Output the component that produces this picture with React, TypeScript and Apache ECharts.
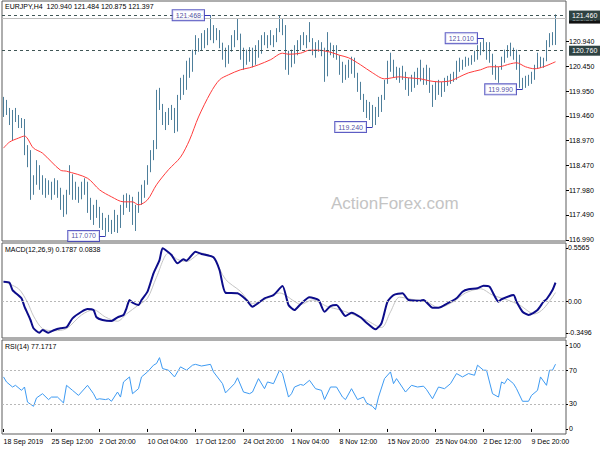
import React, { useEffect, useRef } from 'react';
import * as echarts from 'echarts';

const FONT = "'Liberation Sans', Arial, sans-serif";

// x-axis tick labels (every 16 bars)
const dateLabels = ['18 Sep 2019', '25 Sep 12:00', '2 Oct 20:00', '10 Oct 04:00', '17 Oct 12:00', '24 Oct 20:00', '1 Nov 04:00', '8 Nov 12:00', '15 Nov 20:00', '25 Nov 04:00', '2 Dec 12:00', '9 Dec 20:00'];
const priceTicks = [116.99, 117.49, 117.98, 118.47, 118.97, 119.46, 119.95, 120.45, 120.94];
const rsiTicks = [0, 30, 70, 100];
const macdScale = { min: -0.3496, max: 0.5565 };
const macdLabelSlots = [-0.30, 0, 0.509];
const macdLabelTexts = ['-0.3496', '0.00', '0.5565'];

// bars: [open, high, low, close]
const bars = [
  [119.58, 119.84, 119.44, 119.72], [119.72, 119.78, 119.48, 119.54], [119.54, 119.62, 119.28, 119.33], [119.33, 119.58, 118.98, 119.45],
  [119.45, 119.62, 119.34, 119.40], [119.40, 119.48, 119.22, 119.30], [119.30, 119.42, 119.22, 119.36], [119.36, 119.40, 118.68, 118.80],
  [118.80, 118.88, 118.44, 118.62], [118.62, 118.78, 117.79, 117.98], [117.98, 118.28, 117.89, 118.15], [118.15, 118.58, 118.09, 118.45],
  [118.45, 118.48, 117.99, 118.10], [118.10, 118.28, 117.89, 118.20], [118.20, 118.22, 117.83, 117.95], [117.95, 118.18, 117.89, 118.10],
  [118.10, 118.15, 117.79, 117.90], [117.90, 118.22, 117.89, 118.12], [118.12, 118.18, 117.83, 117.95], [117.95, 118.03, 117.59, 117.70],
  [117.70, 117.89, 117.45, 117.55], [117.55, 117.99, 117.50, 117.90], [117.90, 118.48, 117.89, 118.30], [118.30, 118.30, 117.79, 117.95],
  [117.95, 118.15, 117.79, 118.05], [118.05, 118.05, 117.73, 117.80], [117.80, 118.15, 117.80, 118.05], [118.05, 118.22, 117.89, 118.15],
  [118.15, 118.15, 117.53, 117.60], [117.60, 117.83, 117.39, 117.50], [117.50, 117.69, 117.29, 117.45], [117.45, 117.79, 117.43, 117.65],
  [117.65, 117.65, 117.23, 117.30], [117.30, 117.53, 117.19, 117.40], [117.40, 117.43, 117.07, 117.15], [117.15, 117.49, 117.15, 117.35],
  [117.35, 117.39, 117.11, 117.20], [117.20, 117.59, 117.15, 117.45], [117.45, 117.49, 117.13, 117.25], [117.25, 117.69, 117.23, 117.60],
  [117.60, 117.89, 117.49, 117.80], [117.80, 117.92, 117.63, 117.75], [117.75, 117.89, 117.55, 117.85], [117.85, 117.85, 117.29, 117.40],
  [117.40, 117.69, 117.17, 117.55], [117.55, 117.95, 117.53, 117.85], [117.85, 118.09, 117.69, 118.00], [118.00, 118.18, 117.83, 118.10],
  [118.10, 118.48, 118.09, 118.40], [118.40, 118.78, 118.34, 118.65], [118.65, 118.98, 118.58, 118.85], [118.85, 119.98, 118.80, 119.85],
  [119.85, 120.02, 119.58, 119.70], [119.70, 119.70, 119.28, 119.35], [119.35, 119.54, 119.18, 119.45], [119.45, 119.62, 119.28, 119.55],
  [119.55, 119.68, 119.38, 119.60], [119.60, 119.62, 119.12, 119.20], [119.20, 119.88, 119.15, 119.80], [119.80, 120.22, 119.78, 120.10],
  [120.10, 120.28, 119.88, 120.00], [120.00, 120.56, 119.98, 120.45], [120.45, 120.62, 120.22, 120.35], [120.35, 120.78, 120.34, 120.70],
  [120.70, 121.07, 120.68, 120.95], [120.95, 121.01, 120.74, 120.85], [120.85, 121.11, 120.77, 121.00], [121.00, 121.17, 120.81, 120.90],
  [120.90, 121.21, 120.87, 121.10], [121.10, 121.468, 120.97, 121.20], [121.20, 121.27, 120.91, 121.00], [121.00, 121.21, 120.97, 121.15],
  [121.15, 121.17, 120.81, 120.90], [120.90, 120.92, 120.58, 120.70], [120.70, 120.82, 120.43, 120.50], [120.50, 120.87, 120.50, 120.80],
  [120.80, 121.07, 120.74, 121.00], [121.00, 121.17, 120.83, 121.05], [121.05, 121.41, 120.97, 121.10], [121.10, 121.10, 120.58, 120.65],
  [120.65, 120.82, 120.38, 120.50], [120.50, 120.78, 120.48, 120.70], [120.70, 120.83, 120.54, 120.60], [120.60, 120.82, 120.43, 120.55],
  [120.55, 120.87, 120.48, 120.80], [120.80, 120.97, 120.62, 120.70], [120.70, 121.07, 120.70, 121.00], [121.00, 121.13, 120.87, 120.95],
  [120.95, 121.07, 120.81, 121.05], [121.05, 121.17, 120.87, 120.92], [120.92, 121.07, 120.83, 121.05], [121.05, 121.21, 120.93, 121.15],
  [121.15, 121.46, 121.13, 121.30], [121.30, 121.41, 121.07, 121.20], [121.20, 121.27, 120.38, 120.50], [120.50, 120.76, 120.28, 120.60],
  [120.60, 120.78, 120.43, 120.50], [120.50, 120.87, 120.50, 120.80], [120.80, 120.97, 120.67, 120.90], [120.90, 121.07, 120.77, 121.00],
  [121.00, 121.13, 120.87, 120.95], [120.95, 121.07, 120.81, 121.05], [121.05, 121.33, 120.93, 121.00], [121.00, 121.01, 120.67, 120.75],
  [120.75, 120.93, 120.62, 120.85], [120.85, 120.97, 120.74, 120.80], [120.80, 120.93, 120.65, 120.70], [120.70, 120.82, 120.14, 120.25],
  [120.25, 121.13, 120.25, 120.90], [120.90, 120.92, 120.67, 120.80], [120.80, 120.87, 120.62, 120.70], [120.70, 120.87, 120.58, 120.65],
  [120.65, 120.67, 120.28, 120.35], [120.35, 120.54, 120.12, 120.20], [120.20, 120.48, 120.18, 120.40], [120.40, 120.58, 120.22, 120.30],
  [120.30, 120.64, 120.30, 120.55], [120.55, 120.62, 120.22, 120.30], [120.30, 120.32, 119.94, 120.00], [120.00, 120.14, 119.78, 119.90],
  [119.90, 119.90, 119.54, 119.60], [119.60, 119.78, 119.42, 119.50], [119.50, 119.74, 119.38, 119.45], [119.45, 119.68, 119.24, 119.35],
  [119.35, 119.64, 119.28, 119.55], [119.55, 119.84, 119.44, 119.75], [119.75, 119.88, 119.54, 119.80], [119.80, 120.18, 119.78, 120.10],
  [120.10, 120.56, 120.10, 120.45], [120.45, 120.72, 120.34, 120.55], [120.55, 120.58, 120.22, 120.40], [120.40, 120.44, 120.18, 120.30],
  [120.30, 120.42, 120.12, 120.38], [120.38, 120.46, 120.18, 120.25], [120.25, 120.34, 119.98, 120.05], [120.05, 120.22, 119.86, 120.15],
  [120.15, 120.28, 119.94, 120.05], [120.05, 120.34, 120.02, 120.25], [120.25, 120.42, 120.08, 120.15], [120.15, 120.58, 120.15, 120.40],
  [120.40, 120.42, 120.08, 120.20], [120.20, 120.48, 120.08, 120.35], [120.35, 120.42, 119.92, 120.00], [120.00, 120.08, 119.64, 119.80],
  [119.80, 120.14, 119.78, 119.95], [119.95, 120.18, 119.88, 120.05], [120.05, 120.14, 119.84, 119.95], [119.95, 120.22, 119.94, 120.15],
  [120.15, 120.26, 120.06, 120.10], [120.10, 120.30, 120.10, 120.22], [120.22, 120.34, 120.14, 120.18], [120.18, 120.56, 120.18, 120.45],
  [120.45, 120.62, 120.34, 120.50], [120.50, 120.58, 120.38, 120.45], [120.45, 120.64, 120.44, 120.55], [120.55, 120.62, 120.46, 120.50],
  [120.50, 120.67, 120.48, 120.60], [120.60, 120.76, 120.54, 120.70], [120.70, 120.87, 120.58, 120.80], [120.80, 120.93, 120.67, 120.85],
  [120.85, 121.01, 120.74, 120.80], [120.80, 120.93, 120.58, 120.88], [120.88, 120.93, 120.52, 120.70], [120.70, 120.70, 120.28, 120.35],
  [120.35, 120.48, 120.18, 120.25], [120.25, 120.44, 120.12, 120.40], [120.40, 120.64, 120.38, 120.55], [120.55, 120.78, 120.52, 120.70],
  [120.70, 120.87, 120.62, 120.80], [120.80, 120.92, 120.65, 120.72], [120.72, 120.82, 120.58, 120.65], [120.65, 120.78, 120.38, 120.45],
  [120.45, 120.68, 120.02, 120.05], [120.05, 120.22, 119.99, 120.10], [120.10, 120.26, 120.02, 120.15], [120.15, 120.28, 120.06, 120.12],
  [120.12, 120.34, 120.10, 120.25], [120.25, 120.48, 120.18, 120.40], [120.40, 120.72, 120.40, 120.60], [120.60, 120.64, 120.42, 120.50],
  [120.50, 120.62, 120.42, 120.55], [120.55, 120.97, 120.55, 120.90], [120.90, 121.11, 120.83, 120.95], [120.95, 121.13, 120.87, 120.94],
  [120.94, 121.484, 120.875, 121.397],
];

// moving average (red) read at bar indices
const maLine = [
  [0, 118.82], [2, 118.94], [5, 119.02], [7, 119.06], [10, 118.82], [13, 118.72], [19, 118.38], [21, 118.36], [28, 118.22], [32, 117.99],
  [36, 117.85], [40, 117.75], [43, 117.75], [45, 117.69], [48, 117.79], [51, 118.09], [55, 118.39], [59, 118.64], [62, 118.98], [65, 119.44],
  [69, 119.92], [72, 120.18], [75, 120.28], [79, 120.38], [82, 120.42], [85, 120.48], [89, 120.58], [93, 120.71], [95, 120.69], [99, 120.71],
  [102, 120.77], [105, 120.77], [109, 120.73], [112, 120.67], [115, 120.62], [119, 120.48], [123, 120.32], [127, 120.20], [132, 120.24],
  [135, 120.22], [139, 120.20], [142, 120.16], [145, 120.14], [149, 120.16], [152, 120.24], [155, 120.32], [159, 120.38], [162, 120.44],
  [165, 120.44], [169, 120.50], [171, 120.52], [174, 120.44], [177, 120.40], [180, 120.44], [184, 120.54],
];

const macdLine = [
  [0, 0.187], [2, 0.178], [3, 0.108], [6, 0.029], [7, -0.051], [9, -0.178], [10, -0.257], [12, -0.299], [13, -0.273], [15, -0.299],
  [17, -0.273], [19, -0.257], [21, -0.247], [23, -0.162], [26, -0.099], [28, -0.073], [30, -0.083], [31, -0.152], [33, -0.178], [36, -0.187],
  [38, -0.152], [40, -0.130], [41, -0.066], [42, 0.013], [43, -0.013], [45, -0.035], [46, 0.013], [48, 0.092], [50, 0.267], [52, 0.394],
  [53, 0.506], [54, 0.490], [56, 0.442], [58, 0.363], [60, 0.401], [61, 0.388], [64, 0.474], [66, 0.452], [70, 0.420], [72, 0.299],
  [74, 0.082], [78, 0.077], [81, 0.013], [83, -0.051], [87, 0.029], [90, 0.060], [93, 0.146], [95, -0.035], [97, -0.083], [99, -0.027],
  [102, 0.039], [105, 0.013], [107, -0.099], [109, -0.045], [111, -0.035], [114, -0.140], [116, -0.108], [119, -0.152], [121, -0.204],
  [124, -0.267], [126, -0.209], [128, -0.003], [130, 0.060], [133, 0.077], [135, 0.013], [139, 0.006], [140, 0.013], [143, -0.061],
  [145, -0.061], [148, -0.019], [151, 0.029], [153, 0.092], [155, 0.115], [158, 0.124], [160, 0.149], [162, 0.140], [165, -0.003],
  [166, 0.020], [170, 0.060], [171, -0.003], [173, -0.099], [175, -0.130], [178, -0.083], [180, -0.003], [181, 0.020], [183, 0.108], [184, 0.1787],
];

const signalLine = [
  [0, 0.187], [5, 0.12], [8, -0.01], [10, -0.14], [13, -0.26], [17, -0.28], [21, -0.26], [26, -0.13], [30, -0.08], [34, -0.15], [38, -0.19],
  [41, -0.12], [45, -0.035], [48, 0.03], [51, 0.23], [55, 0.46], [58, 0.40], [61, 0.38], [66, 0.46], [70, 0.41], [74, 0.21], [79, 0.095],
  [83, -0.02], [88, 0.03], [92, 0.08], [97, 0.0], [99, -0.03], [103, 0.013], [108, -0.05], [112, -0.08], [116, -0.12], [121, -0.18],
  [126, -0.25], [129, -0.10], [132, 0.04], [136, 0.02], [141, -0.003], [145, -0.06], [150, -0.003], [154, 0.08], [159, 0.12], [163, 0.06],
  [168, 0.013], [172, -0.035], [177, -0.12], [180, -0.07], [184, 0.0838],
];

const rsiLine = [
  [0, 62], [1, 56], [3, 50], [4, 52], [6, 46], [7, 50], [8, 32], [10, 27], [11, 37], [13, 42], [15, 35], [16, 38], [18, 38], [20, 31],
  [21, 52], [23, 46], [25, 40], [28, 52], [30, 42], [31, 35], [32, 36], [34, 35], [35, 36], [36, 33], [38, 44], [39, 38], [40, 56],
  [42, 62], [43, 42], [45, 48], [46, 62], [48, 68], [50, 76], [51, 78], [52, 85], [53, 72], [55, 70], [57, 62], [59, 74], [61, 70],
  [63, 76], [64, 77], [66, 75], [69, 77], [70, 68], [73, 54], [74, 43], [77, 54], [78, 61], [80, 44], [82, 42], [83, 44], [85, 60],
  [87, 48], [88, 56], [90, 54], [92, 70], [93, 66], [95, 38], [96, 42], [97, 50], [99, 53], [100, 52], [102, 58], [104, 48], [106, 46],
  [107, 35], [109, 50], [111, 50], [113, 38], [114, 35], [116, 48], [118, 35], [120, 38], [121, 31], [123, 27], [124, 23], [125, 38],
  [127, 60], [129, 68], [130, 54], [131, 60], [134, 44], [136, 52], [138, 50], [140, 51], [141, 47], [143, 36], [145, 50], [147, 48],
  [149, 54], [151, 66], [153, 62], [155, 66], [157, 64], [158, 76], [160, 70], [161, 70], [163, 42], [165, 38], [166, 56], [167, 54],
  [168, 60], [170, 54], [171, 48], [173, 33], [175, 33], [176, 40], [178, 46], [179, 62], [181, 52], [182, 70], [183, 70], [184, 77.17],
];

// swing high/low annotations: [bar index, price]
const swingMarks = [[69, 121.468], [34, 117.07], [123, 119.24], [160, 121.01], [173, 119.99]];
const dashedLevels = [121.46, 120.76];
const lastPrice = 121.397;
const titleText = 'EURJPY,H4  120.940 121.484 120.875 121.397';
const macdText = 'MACD(12,26,9) 0.1787 0.0838';
const rsiText = 'RSI(14) 77.1717';

const SLOTS = 188;
const categories = Array.from({ length: SLOTS }, (_, i) => String(i));

export default function App() {
  const ref = useRef<HTMLDivElement>(null);
  useEffect(() => {
    if (!ref.current) return;
    const chart = echarts.init(ref.current, null, { renderer: 'svg' });
    const border = { show: true, borderColor: '#5c5c5c', borderWidth: 1 };
    const xBase = (gridIndex: number) => ({
      type: 'category', gridIndex, data: categories, boundaryGap: true,
      axisLine: { show: false }, splitLine: { show: false },
      axisTick: { show: false }, axisLabel: { show: false },
    });
    const lbl = { fontSize: 7, color: '#000', fontFamily: FONT };
    const priceBox = (text: string, bg: string) => ({
      show: true, position: 'end', distance: 3, formatter: text, backgroundColor: bg, color: '#fff',
      padding: [2, 3, 1, 3], fontSize: 7, fontFamily: FONT,
    });
    chart.setOption({
      animation: false,
      backgroundColor: '#fff',
      grid: [
        { left: 2, top: 1, width: 564, height: 240, ...border },
        { left: 2, top: 243, width: 564, height: 95, ...border },
        { left: 2, top: 340, width: 564, height: 94, ...border },
      ],
      xAxis: [
        xBase(0),
        xBase(1),
        {
          ...xBase(2),
          axisTick: { show: true, interval: 15, alignWithLabel: true, length: 3, lineStyle: { color: '#000' } },
          axisLabel: {
            show: true, interval: 15, align: 'left', margin: 4, ...lbl,
            formatter: (v: string) => { const n = Number(v); return n % 16 === 0 ? (dateLabels[n / 16] ?? '') : ''; },
          },
        },
      ],
      yAxis: [
        {
          type: 'value', gridIndex: 0, position: 'right', min: 116.97, max: 121.75,
          splitLine: { show: false }, axisLine: { show: false },
          axisTick: { show: true, customValues: priceTicks, length: 3, lineStyle: { color: '#000' } },
          axisLabel: { customValues: priceTicks, formatter: (v: number) => v.toFixed(3), margin: 3, ...lbl },
        },
        {
          type: 'value', gridIndex: 1, position: 'right', min: macdScale.min, max: macdScale.max,
          splitLine: { show: false }, axisLine: { show: false },
          axisTick: { show: true, customValues: macdLabelSlots, length: 2, lineStyle: { color: '#000' } },
          axisLabel: {
            customValues: macdLabelSlots, margin: 2, ...lbl,
            formatter: (v: number) => macdLabelTexts[macdLabelSlots.findIndex((s) => Math.abs(s - v) < 1e-6)] ?? '',
          },
        },
        {
          type: 'value', gridIndex: 2, position: 'right', min: -6, max: 106,
          splitLine: { show: false }, axisLine: { show: false },
          axisTick: { show: true, customValues: rsiTicks, length: 2, lineStyle: { color: '#000' } },
          axisLabel: { customValues: rsiTicks, margin: 3, ...lbl, formatter: (v: number) => String(v) },
        },
      ],
      graphic: [
        { type: 'text', left: 331, top: 195, z: 0, style: { text: 'ActionForex.com', font: `17px ${FONT}`, fill: '#c4c4c4' } },
        { type: 'text', left: 5, top: 3, z: 10, style: { text: titleText, font: `7px ${FONT}`, fill: '#000' } },
        { type: 'text', left: 5, top: 246, z: 10, style: { text: macdText, font: `7px ${FONT}`, fill: '#000' } },
        { type: 'text', left: 5, top: 343, z: 10, style: { text: rsiText, font: `7px ${FONT}`, fill: '#000' } },
      ],
      series: [
        {
          type: 'candlestick', xAxisIndex: 0, yAxisIndex: 0, barWidth: 1,
          data: bars.map((b) => [b[0], b[3], b[2], b[1]]),
          itemStyle: { color: '#4e7f9b', color0: '#4e7f9b', borderColor: '#4e7f9b', borderColor0: '#4e7f9b', borderWidth: 1 },
          markLine: {
            silent: true, symbol: ['none', 'none'], animation: false,
            data: [
              { yAxis: lastPrice, lineStyle: { type: 'solid', color: '#bdbdbd', width: 1 }, label: priceBox(lastPrice.toFixed(3), '#111') },
              ...dashedLevels.map((v) => ({
                yAxis: v, lineStyle: { type: [3, 3], color: '#405656', width: 1 }, label: priceBox(v.toFixed(3), '#2f4343'),
              })),
            ],
          },
        },
        {
          type: 'line', xAxisIndex: 0, yAxisIndex: 0, data: maLine, symbol: 'none', smooth: 0.3,
          lineStyle: { color: '#ff3c3c', width: 1 }, z: 3,
        },
        {
          type: 'scatter', xAxisIndex: 0, yAxisIndex: 0, data: swingMarks, symbolSize: 1, z: 6,
          itemStyle: { color: 'rgba(0,0,0,0)' },
          label: {
            show: true, position: 'left', distance: 6,
            formatter: (p: any) => Number(p.value[1]).toFixed(3),
            backgroundColor: '#fff', borderColor: '#3535b5', borderWidth: 1, padding: [2, 3, 1, 3],
            color: '#1c1c8e', fontSize: 7, fontFamily: FONT,
          },
          markLine: {
            silent: true, symbol: ['none', 'none'], animation: false,
            lineStyle: { color: '#3535b5', width: 1, type: 'solid' }, label: { show: false },
            data: swingMarks.map((m) => [{ coord: [m[0] - 2, m[1]] }, { coord: [m[0], m[1]] }]),
          },
        },
        {
          type: 'line', xAxisIndex: 1, yAxisIndex: 1, data: signalLine, symbol: 'none', smooth: 0.3,
          lineStyle: { color: '#c4c4c4', width: 1 },
          markLine: {
            silent: true, symbol: ['none', 'none'], animation: false, label: { show: false },
            lineStyle: { type: [2, 2], color: '#b8b8b8', width: 1 }, data: [{ yAxis: 0 }],
          },
        },
        {
          type: 'line', xAxisIndex: 1, yAxisIndex: 1, data: macdLine, symbol: 'none', smooth: 0.2,
          lineStyle: { color: '#0c0c8a', width: 2 }, z: 4,
        },
        {
          type: 'line', xAxisIndex: 2, yAxisIndex: 2, data: rsiLine, symbol: 'none',
          lineStyle: { color: '#3d9af2', width: 1 },
          markLine: {
            silent: true, symbol: ['none', 'none'], animation: false, label: { show: false },
            lineStyle: { type: [2, 2], color: '#b8b8b8', width: 1 }, data: [{ yAxis: 70 }, { yAxis: 30 }],
          },
        },
      ],
    });
    return () => chart.dispose();
  }, []);
  return <div ref={ref} style={{ position: 'absolute', left: 0, top: 0, width: 600, height: 450, background: '#fff' }} />;
}
